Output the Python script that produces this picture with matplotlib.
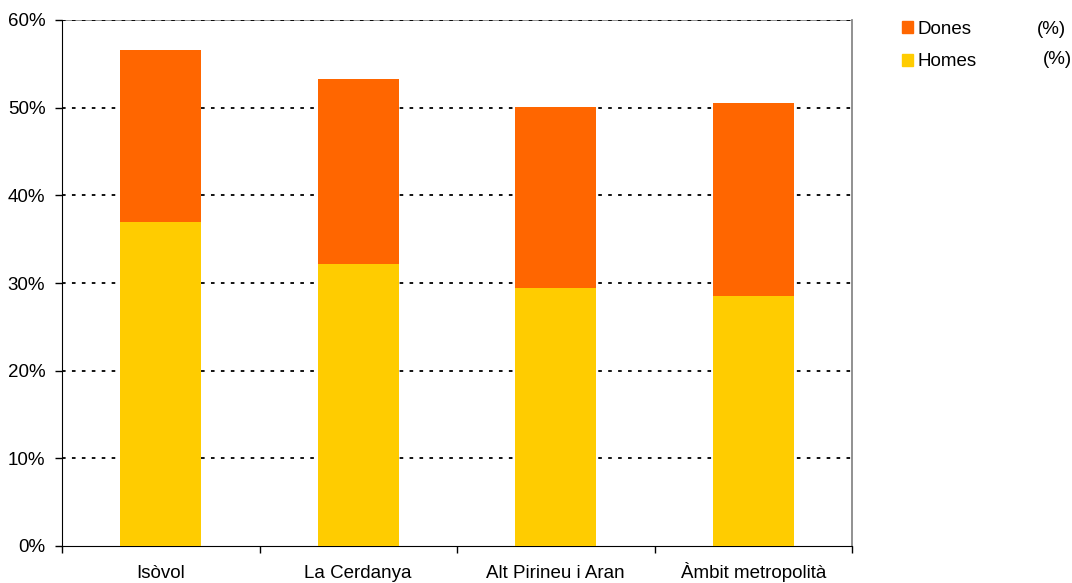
import numpy as np
import matplotlib.pyplot as plt
from matplotlib.patches import Patch

plt.rcParams['font.family'] = ['Liberation Sans', 'DejaVu Sans']

categories = ["Isòvol", "La Cerdanya", "Alt Pirineu i Aran", "Àmbit metropolità"]
homes = [37.0, 32.2, 29.4, 28.5]
dones = [19.6, 21.1, 20.7, 22.0]
series_names = ["Dones", "Homes"]
yticks = [0, 10, 20, 30, 40, 50, 60]

c_homes = "#FFCC00"
c_dones = "#FF6600"
fs = 13.5

fig = plt.figure(figsize=(10.72, 5.83), dpi=100)
ax = fig.add_axes([62 / 1072, 37 / 583, 790 / 1072, 526 / 583])

x = np.arange(len(categories))
ax.bar(x, homes, width=0.41, color=c_homes, zorder=3)
ax.bar(x, dones, width=0.41, bottom=homes, color=c_dones, zorder=3)

ax.set_xlim(-0.5, len(categories) - 0.5)
ax.set_ylim(0, 60)

# dotted gridlines
for t in yticks[1:-1]:
    ax.axhline(t, color="black", linestyle=(0, (2, 3.5)), linewidth=1.3, zorder=1)
ax.axhline(60, color="#888888", linewidth=1.3, zorder=1)
ax.axhline(60, color="black", linestyle=(0, (2, 3.5)), linewidth=1.3, zorder=2)

ax.set_yticks(yticks)
ax.set_yticklabels([f"{t}%" for t in yticks], fontsize=fs)
ax.tick_params(axis="y", direction="out", length=5, width=1, pad=7)

# category ticks at the boundaries, labels centered
ax.set_xticks(np.arange(len(categories) + 1) - 0.5)
ax.set_xticklabels([])
ax.set_xticks(x, minor=True)
ax.set_xticklabels(categories, minor=True, fontsize=fs, va="baseline")
ax.tick_params(axis="x", which="major", direction="out", length=5, width=1)
ax.tick_params(axis="x", which="minor", length=0, pad=23)

ax.spines["left"].set_color("black")
ax.spines["bottom"].set_color("black")
ax.spines["top"].set_visible(False)
ax.spines["right"].set_color("#888888")
ax.spines["right"].set_linewidth(1.3)

handles = [Patch(color=c_dones), Patch(color=c_homes)]
fig.legend(handles, series_names, loc="upper left", bbox_to_anchor=(887 / 1072, 1 - 6 / 583),
           frameon=False, fontsize=fs, handlelength=0.6, handleheight=0.6,
           handletextpad=0.25, labelspacing=0.82, borderpad=0.3)
fig.text(1037 / 1072, 1 - 29 / 583, "(%)", fontsize=fs, va="center")
fig.text(1043 / 1072, 1 - 60 / 583, "(%)", fontsize=fs, va="center")

fig.savefig("out.png", dpi=100)
